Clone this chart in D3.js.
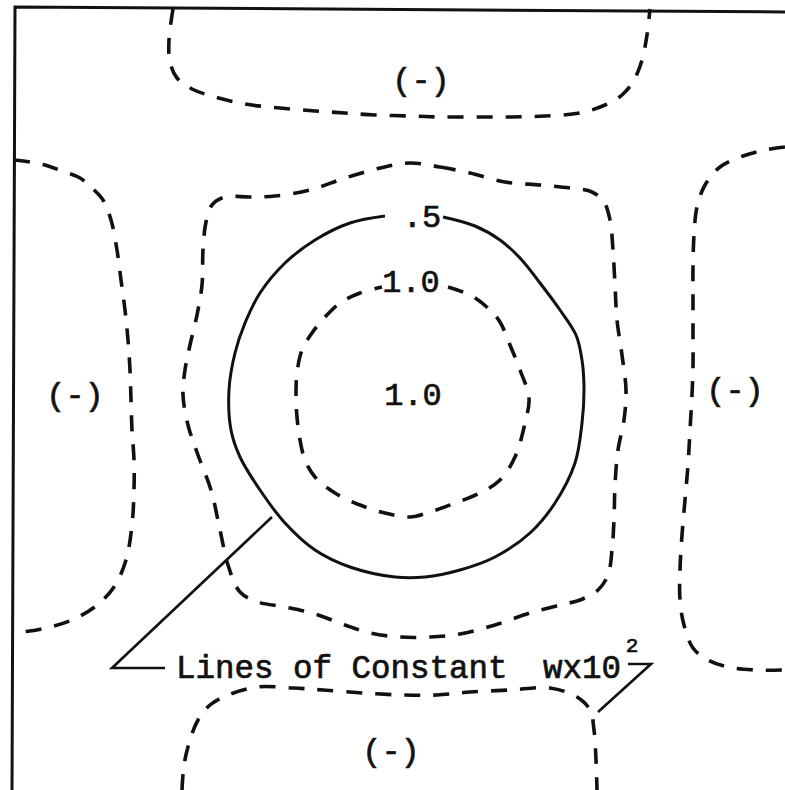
<!DOCTYPE html>
<html>
<head>
<meta charset="utf-8">
<script src="https://cdn.jsdelivr.net/npm/d3@7"></script>
<style>
  html, body { margin: 0; padding: 0; background: #fff; }
  svg { display: block; }
  text { font-family: "Liberation Mono", "Courier New", monospace; fill: #111; stroke: #111; stroke-width: 0.7px; }
</style>
</head>
<body>
<div id="chart"></div>
<script>
// Plate coordinates (peak of w at the origin), x to the right, y upward.

// Border of the plotted region (left edge and top edge).
const frameLine = [[-40.0, -39.2], [-39.7, 39.3], [37.3, 38.8]];

// w x 10^2 = 0 contour, upper negative lobe (open, meets the top border).
const zeroTop = [
  [-23.9, 39.1], [-24.3, 36.0], [-24.2, 33.8], [-23.5, 32.2], [-22.0, 31.1],
  [-19.7, 30.3], [-16.7, 29.6], [-13.2, 29.2], [-9.7, 28.9], [-6.7, 28.7],
  [-3.7, 28.5], [-0.2, 28.4], [2.8, 28.3], [6.3, 28.3], [9.8, 28.3],
  [13.3, 28.4], [16.8, 28.7], [19.3, 29.5], [21.0, 30.5], [22.2, 32.0],
  [23.0, 34.0], [23.5, 36.5], [23.8, 39.1]
];

// w x 10^2 = 0 contour, left negative lobe (meets the left border).
const zeroLeft = [
  [-39.8, 24.0], [-38.2, 23.8], [-36.7, 23.5], [-35.0, 22.9], [-33.2, 22.2],
  [-32.0, 21.2], [-30.9, 20.0], [-30.1, 18.0], [-29.5, 15.0], [-29.1, 12.0],
  [-28.7, 9.0], [-28.4, 6.0], [-28.2, 3.0], [-28.1, 0.0], [-28.0, -3.0],
  [-27.8, -6.0], [-27.8, -9.0], [-28.0, -12.5], [-28.6, -16.0], [-29.8, -18.7],
  [-31.6, -20.6], [-34.0, -22.0], [-36.2, -22.7], [-38.2, -23.1], [-39.8, -23.2]
];

// w x 10^2 = 0 contour, right negative lobe (runs off the right edge).
const zeroRight = [
  [37.3, 25.3], [35.3, 25.0], [33.1, 24.4], [30.8, 23.3], [29.3, 21.5],
  [28.5, 19.3], [28.2, 16.5], [28.1, 13.3], [28.1, 10.0], [28.1, 6.7],
  [28.1, 3.3], [28.0, 0.5], [27.8, -3.0], [27.6, -6.5], [27.3, -10.0],
  [27.0, -13.5], [26.8, -17.0], [26.8, -20.0], [27.2, -22.5], [28.1, -24.8],
  [29.6, -26.0], [31.6, -26.7], [34.3, -27.0], [37.3, -27.0]
];

// w x 10^2 = 0 contour, lower negative lobe (runs off the bottom edge).
const zeroBottom = [
  [-23.0, -39.0], [-22.8, -36.5], [-22.2, -34.0], [-21.4, -32.0], [-20.2, -30.5],
  [-18.4, -29.5], [-15.5, -28.7], [-11.9, -28.8], [-8.9, -29.0], [-4.9, -29.3],
  [-0.9, -29.5], [2.5, -29.5], [5.8, -29.2], [9.8, -29.0], [13.8, -28.8],
  [16.5, -29.7], [17.8, -31.0], [18.2, -33.0], [18.4, -36.0], [18.5, -39.0]
];

// w x 10^2 = 0 contour around the central peak (closed).
const zeroCentre = [
  [-0.2, 23.7], [2.8, 23.3], [5.8, 22.7], [9.3, 21.8], [12.8, 21.5],
  [15.8, 21.2], [18.0, 20.8], [19.2, 19.8], [19.8, 18.0], [20.1, 15.0],
  [20.3, 11.5], [20.5, 8.0], [21.0, 4.5], [21.4, 1.0], [21.2, -2.0],
  [20.6, -5.0], [20.3, -8.5], [20.2, -12.0], [20.0, -15.0], [19.6, -17.5],
  [18.6, -19.0], [16.8, -20.0], [14.8, -20.5], [11.8, -21.3], [8.3, -22.5],
  [4.8, -23.4], [1.8, -23.7], [-1.2, -23.7], [-4.2, -23.3], [-6.7, -22.5],
  [-9.7, -21.4], [-12.7, -20.7], [-15.4, -20.2], [-17.2, -19.2], [-18.4, -16.5],
  [-19.2, -13.0], [-20.1, -9.0], [-21.4, -5.5], [-22.4, -2.5], [-22.9, 0.5],
  [-22.7, 3.0], [-22.2, 5.5], [-21.5, 8.5], [-21.0, 11.5], [-20.9, 15.0],
  [-20.6, 17.8], [-20.0, 19.5], [-18.7, 20.3], [-16.2, 20.3], [-13.7, 20.4],
  [-10.2, 21.0], [-6.7, 22.2], [-3.2, 23.2]
];

// w x 10^2 = 0.5 contour (solid), broken at the top for its label.
const halfContour = [
  [3.1, 18.3], [6.3, 17.4], [8.8, 16.0], [10.8, 14.2], [12.8, 11.7],
  [14.8, 9.0], [16.4, 6.5], [17.0, 4.0], [17.2, 1.0], [17.0, -2.3], [16.3, -6.3],
  [14.3, -10.3], [11.8, -13.3], [8.3, -15.7], [4.8, -17.0], [1.3, -17.7],
  [-1.7, -17.7], [-6.2, -16.7], [-9.7, -15.0], [-12.7, -12.3], [-15.2, -9.0],
  [-17.2, -5.7], [-18.1, -3.0], [-18.3, 1.0], [-17.7, 4.7], [-16.7, 7.7],
  [-15.2, 10.7], [-12.7, 13.7], [-9.7, 16.0], [-6.2, 17.7], [-2.7, 18.4]
];

// w x 10^2 = 1.0 contour (dashed), broken at the top for its label.
const oneContour = [
  [3.6, 11.3], [6.0, 10.4], [7.8, 9.0], [8.8, 7.8], [9.8, 5.5],
  [10.8, 3.0], [11.7, 0.2], [11.3, -2.3], [10.3, -5.7], [8.8, -8.0],
  [6.8, -9.3], [3.8, -10.5], [1.8, -11.2], [-0.2, -11.7], [-2.7, -11.3],
  [-5.2, -10.5], [-7.7, -9.3], [-9.7, -7.7], [-10.7, -6.0], [-11.2, -4.0],
  [-11.5, -1.7], [-11.6, 0.5], [-11.5, 2.7], [-11.0, 5.0], [-10.0, 6.7],
  [-8.7, 8.3], [-7.2, 9.7], [-5.2, 10.7], [-3.0, 11.3]
];

// Leader lines tying the caption to the contours.
const leaderLeft = [[-14.0, -11.7], [-30.0, -26.8], [-24.7, -26.8]];
const leaderRight = [[21.6, -26.4], [23.9, -26.4], [18.6, -31.2]];

// Contour value labels and lobe signs.
const labelText = ["(-)", "(-)", "(-)", "(-)", "1.0", "1.0", ".5"];
const labelX = [0.9, -33.7, 32.3, -2.1, 0.1, -0.1, 1.0];
const labelY = [31.0, -0.5, 0.0, -36.1, -0.5, 10.8, 17.3];

// Caption.
const captionText = "Lines of Constant";
const captionUnit = "wx10";
const captionExp = "2";
const captionPos = [-23.6, -27.8];
const unitPos = [13.1, -27.8];
const expPos = [22.0, -25.2];

const W = 785, H = 790;
const svg = d3.select("#chart").append("svg")
  .attr("width", W).attr("height", H)
  .style("background", "#fff");

const x = d3.scaleLinear().domain([-41.2, 37.3]).range([0, W]);
const y = d3.scaleLinear().domain([-39.0, 40.0]).range([H, 0]);

const open = d3.line().x(d => x(d[0])).y(d => y(d[1])).curve(d3.curveCatmullRom.alpha(0.5));
const closed = d3.line().x(d => x(d[0])).y(d => y(d[1])).curve(d3.curveCatmullRomClosed.alpha(0.5));
const straight = d3.line().x(d => x(d[0])).y(d => y(d[1]));

const ink = "#111";
const dash = "16,13";

// Border
svg.append("path").attr("d", straight(frameLine))
  .attr("fill", "none").attr("stroke", ink).attr("stroke-width", 3);

// Dashed contours
const dashedOpen = [zeroTop, zeroLeft, zeroRight, zeroBottom, oneContour];
svg.append("g").selectAll("path").data(dashedOpen).join("path")
  .attr("d", open)
  .attr("fill", "none").attr("stroke", ink)
  .attr("stroke-width", 3.6).attr("stroke-dasharray", dash);

svg.append("path").datum(zeroCentre).attr("d", closed)
  .attr("fill", "none").attr("stroke", ink)
  .attr("stroke-width", 3.6).attr("stroke-dasharray", dash);

// Solid contour
svg.append("path").datum(halfContour).attr("d", open)
  .attr("fill", "none").attr("stroke", ink).attr("stroke-width", 3);

// Leaders
svg.append("g").selectAll("path").data([leaderLeft, leaderRight]).join("path")
  .attr("d", straight)
  .attr("fill", "none").attr("stroke", ink).attr("stroke-width", 2.6)
  .attr("stroke-linejoin", "miter");

// Labels
svg.append("g").selectAll("text").data(labelText).join("text")
  .attr("x", (d, i) => x(labelX[i]))
  .attr("y", (d, i) => y(labelY[i]))
  .attr("text-anchor", "middle")
  .attr("font-size", 32)
  .text(d => d);

svg.append("text")
  .attr("x", x(captionPos[0])).attr("y", y(captionPos[1]))
  .attr("font-size", 32.5).text(captionText);
svg.append("text")
  .attr("x", x(unitPos[0])).attr("y", y(unitPos[1]))
  .attr("font-size", 32.5).text(captionUnit);
svg.append("text")
  .attr("x", x(expPos[0])).attr("y", y(expPos[1]))
  .attr("text-anchor", "middle")
  .attr("font-size", 21).text(captionExp);
</script>
</body>
</html>
